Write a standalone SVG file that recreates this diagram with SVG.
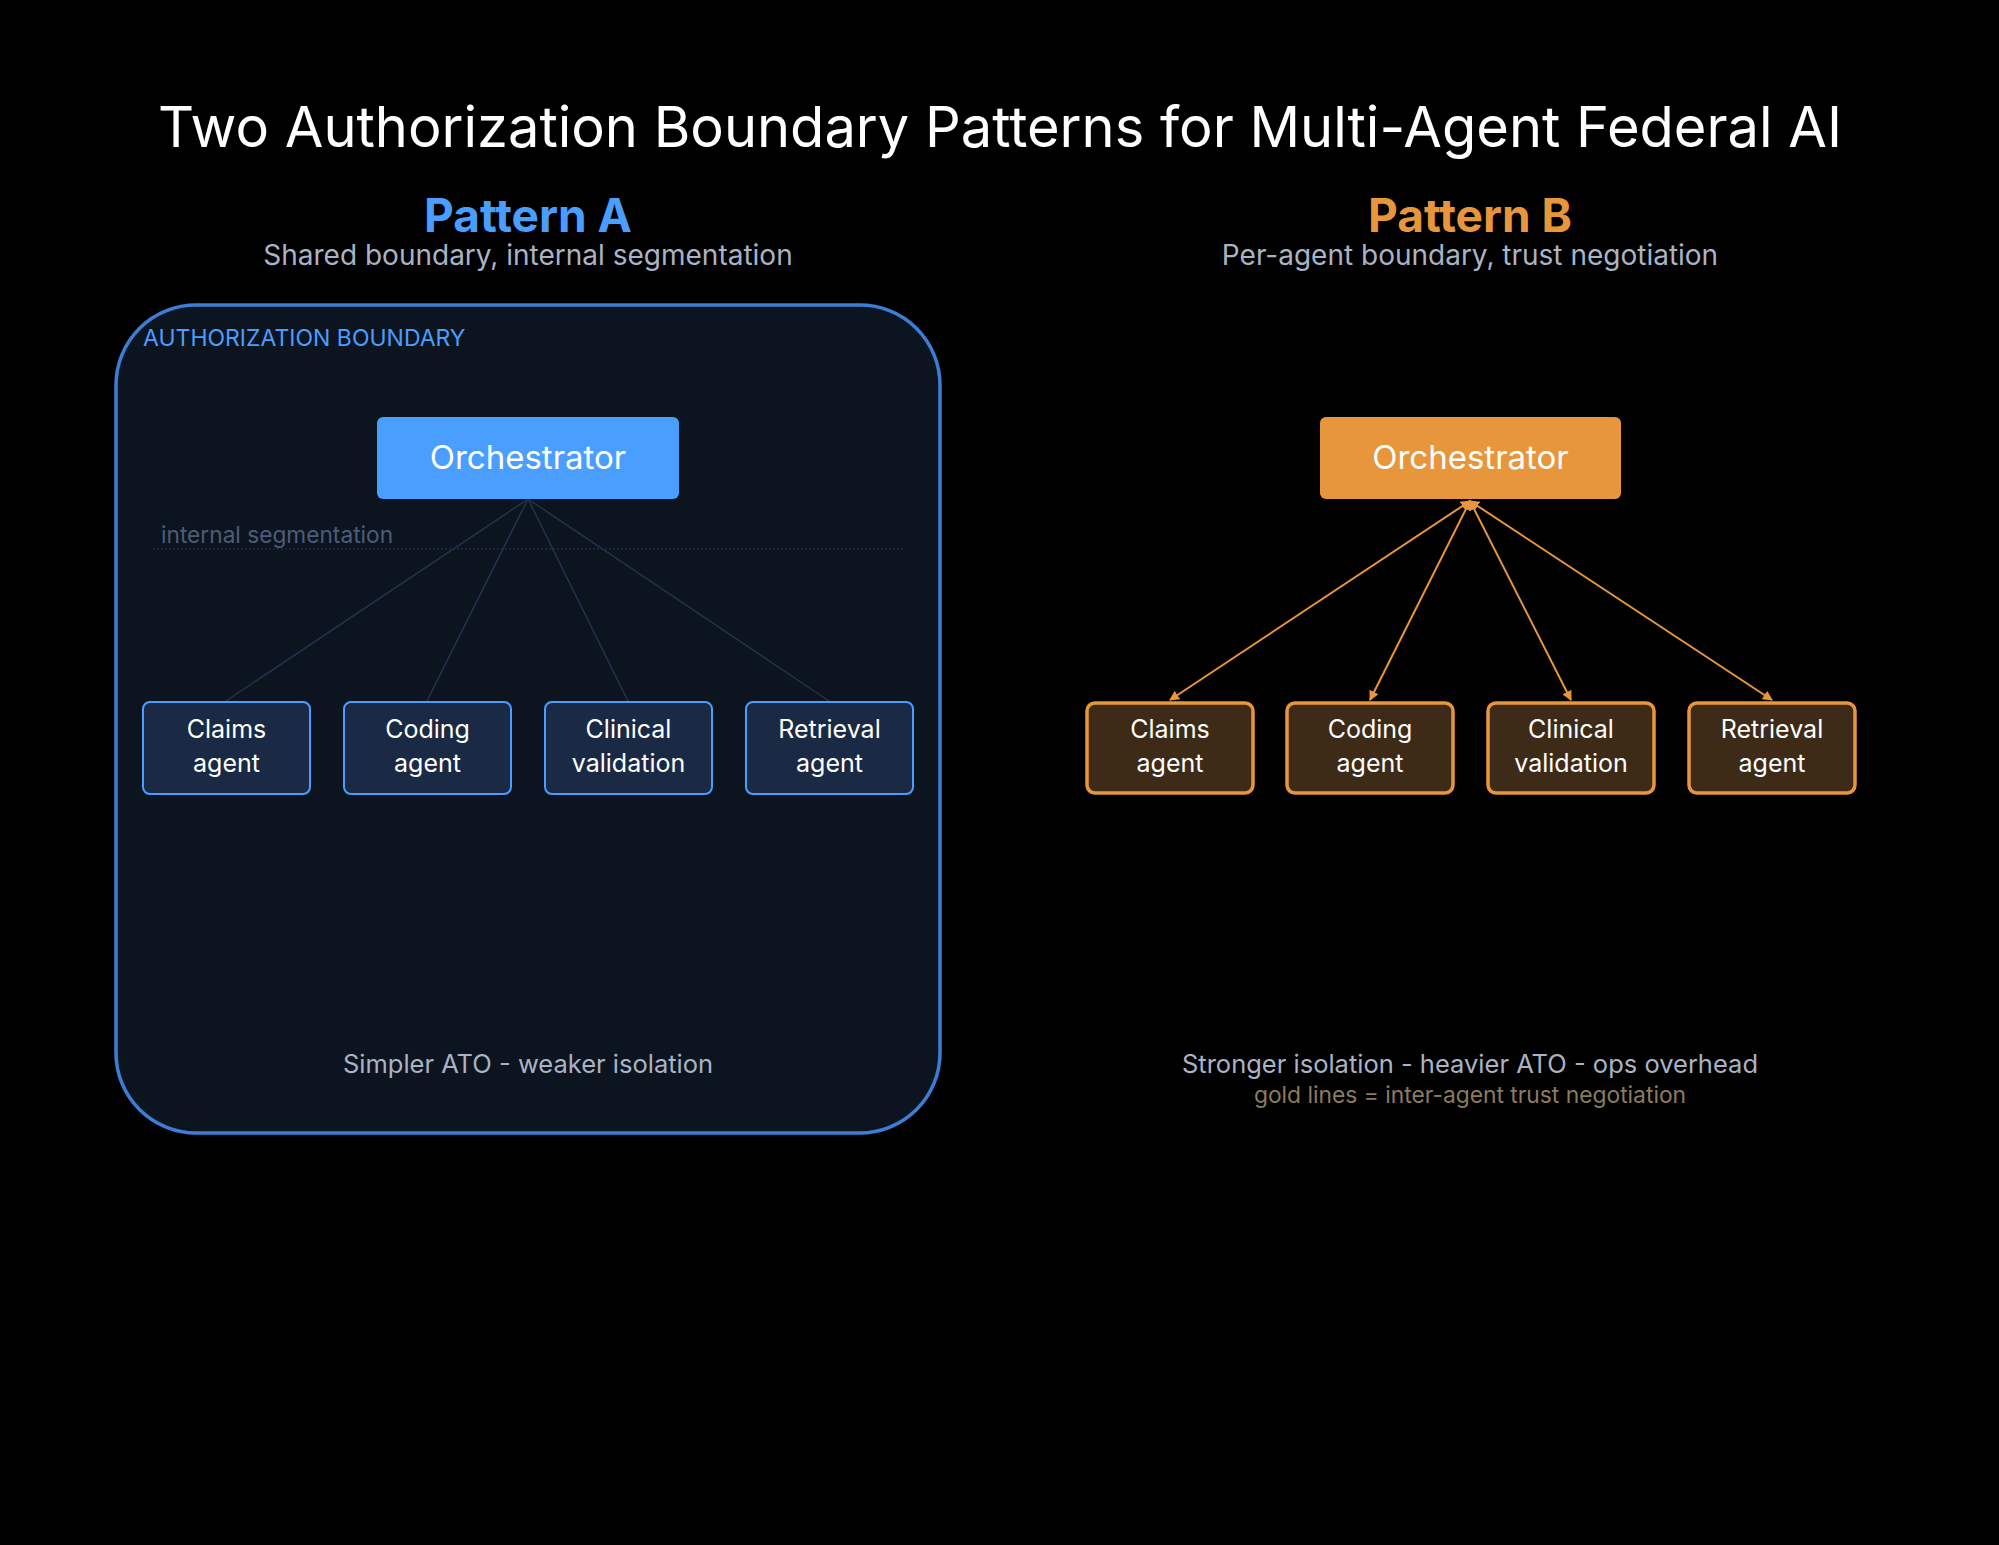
<svg xmlns="http://www.w3.org/2000/svg" width="1999" height="1545" viewBox="0 0 1999 1545">
<defs>
<style>
text{font-family:Inter,"Noto Sans","Liberation Sans",sans-serif}
.title{font-size:56px;fill:#ffffff;text-anchor:middle}
.pat{font-size:46px;font-weight:700;text-anchor:middle}
.sub{font-size:28px;fill:#a9b3c4;text-anchor:middle}
.orchT{font-size:33px;fill:#ffffff;text-anchor:middle}
.agT{font-size:25px;fill:#ffffff;text-anchor:middle}
.agA{fill:#1a2a45;stroke:#4a9eff;stroke-width:2}
.agB{fill:#3d2b18;stroke:#e8963c;stroke-width:3.5}
.cA{stroke:#22334f;stroke-width:1.5;fill:none}
.cB{stroke:#e8963c;stroke-width:2;fill:none;marker-end:url(#ah);marker-start:url(#ah)}
.foot{font-size:25.5px;fill:#a9b3c4;text-anchor:middle}
</style>
<marker id="ah" viewBox="0 0 10 10" refX="9" refY="5" markerWidth="5" markerHeight="5" orient="auto-start-reverse" markerUnits="strokeWidth">
<path d="M0,0 L10,5 L0,10 z" fill="#e8963c"/>
</marker>
</defs>
<rect x="0" y="0" width="1999" height="1545" fill="#000000"/>

<text class="title" x="1000" y="147">Two Authorization Boundary Patterns for Multi-Agent Federal AI</text>

<g id="headerA">
<text class="pat" x="528" y="232" fill="#4a9eff">Pattern A</text>
<text class="sub" x="528" y="265">Shared boundary, internal segmentation</text>
</g>
<g id="headerB">
<text class="pat" x="1470" y="232" fill="#e8963c">Pattern B</text>
<text class="sub" x="1470" y="265">Per-agent boundary, trust negotiation</text>
</g>

<g id="boundaryA">
<rect x="116" y="305" width="824" height="828" rx="80" ry="80" fill="#0c1420" stroke="#3a7fd5" stroke-width="3.5"/>
<text x="143" y="346" font-size="23" fill="#4a9eff">AUTHORIZATION BOUNDARY</text>
<line x1="153" y1="549" x2="905" y2="549" stroke="#1f2b3d" stroke-width="1.5" stroke-dasharray="2 2"/>
<text x="161" y="543" font-size="22.7" fill="#4c5d78">internal segmentation</text>
</g>

<g id="connectors">
<line class="cA" x1="528" y1="499" x2="226" y2="701"/>
<line class="cA" x1="528" y1="499" x2="427" y2="701"/>
<line class="cA" x1="528" y1="499" x2="628" y2="701"/>
<line class="cA" x1="528" y1="499" x2="829" y2="701"/>
<line class="cB" x1="1470" y1="501" x2="1170" y2="700"/>
<line class="cB" x1="1470" y1="501" x2="1370" y2="700"/>
<line class="cB" x1="1470" y1="501" x2="1571" y2="700"/>
<line class="cB" x1="1470" y1="501" x2="1772" y2="700"/>
</g>

<g id="orchA">
<rect x="377" y="417" width="302" height="82" rx="6" fill="#4a9eff"/>
<text class="orchT" x="528" y="469">Orchestrator</text>
</g>
<g id="claimsA">
<rect class="agA" x="143" y="702" width="167" height="92" rx="7"/>
<text class="agT" x="226.5" y="738">Claims</text>
<text class="agT" x="226.5" y="772">agent</text>
</g>
<g id="codingA">
<rect class="agA" x="344" y="702" width="167" height="92" rx="7"/>
<text class="agT" x="427.5" y="738">Coding</text>
<text class="agT" x="427.5" y="772">agent</text>
</g>
<g id="clinicalA">
<rect class="agA" x="545" y="702" width="167" height="92" rx="7"/>
<text class="agT" x="628.5" y="738">Clinical</text>
<text class="agT" x="628.5" y="772">validation</text>
</g>
<g id="retrievalA">
<rect class="agA" x="746" y="702" width="167" height="92" rx="7"/>
<text class="agT" x="829.5" y="738">Retrieval</text>
<text class="agT" x="829.5" y="772">agent</text>
</g>
<text class="foot" x="528" y="1073">Simpler ATO - weaker isolation</text>

<g id="orchB">
<rect x="1320" y="417" width="301" height="82" rx="6" fill="#e8963c"/>
<text class="orchT" x="1470.5" y="469">Orchestrator</text>
</g>
<g id="claimsB">
<rect class="agB" x="1087" y="703" width="166" height="90" rx="8"/>
<text class="agT" x="1170" y="738">Claims</text>
<text class="agT" x="1170" y="772">agent</text>
</g>
<g id="codingB">
<rect class="agB" x="1287" y="703" width="166" height="90" rx="8"/>
<text class="agT" x="1370" y="738">Coding</text>
<text class="agT" x="1370" y="772">agent</text>
</g>
<g id="clinicalB">
<rect class="agB" x="1488" y="703" width="166" height="90" rx="8"/>
<text class="agT" x="1571" y="738">Clinical</text>
<text class="agT" x="1571" y="772">validation</text>
</g>
<g id="retrievalB">
<rect class="agB" x="1689" y="703" width="166" height="90" rx="8"/>
<text class="agT" x="1772" y="738">Retrieval</text>
<text class="agT" x="1772" y="772">agent</text>
</g>
<text class="foot" x="1470" y="1073">Stronger isolation - heavier ATO - ops overhead</text>
<text x="1470" y="1103" font-size="22.8" fill="#8c7b5f" text-anchor="middle">gold lines = inter-agent trust negotiation</text>
</svg>
